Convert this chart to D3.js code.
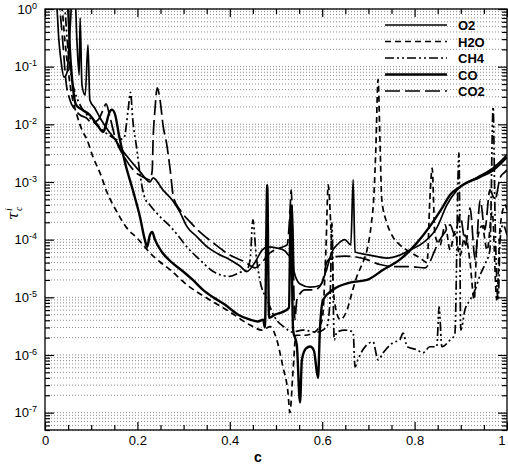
<!DOCTYPE html>
<html>
<head>
<meta charset="utf-8">
<script src="https://cdn.jsdelivr.net/npm/d3@7"></script>
<style>
  body { margin: 0; background: #fff; }
  svg { display: block; font-family: "Liberation Sans", Arial, sans-serif; }
</style>
</head>
<body>
<div id="chart"></div>
<script>
(function () {

  // [c, tau]
  const o2 = [[0.022,1.7],[0.026,1.0],[0.030,0.29],[0.035,0.12],[0.041,0.066],[0.048,0.081],[0.052,0.24],[0.056,0.78],[0.058,1.7],[0.065,1.7],[0.069,0.29],[0.074,0.072],[0.076,0.70],[0.080,0.048],[0.087,0.032],[0.093,0.24],[0.097,0.0265],[0.108,0.019],[0.119,0.013],[0.136,0.0080],[0.152,0.0054],[0.162,0.0041],[0.184,0.0024],[0.206,0.0015],[0.227,0.0010],[0.234,0.00118],[0.255,0.00073],[0.277,0.00047],[0.292,0.00030],[0.307,0.00017],[0.329,0.000112],[0.351,7.5e-5],[0.374,5.7e-5],[0.400,4.5e-5],[0.422,3.5e-5],[0.437,2.8e-5],[0.455,4.1e-5],[0.470,6.6e-5],[0.483,7.5e-5],[0.500,7.2e-5],[0.519,6.4e-5],[0.530,5.2e-5],[0.535,4.0e-4],[0.539,2.8e-5],[0.552,1.7e-5],[0.574,1.5e-5],[0.595,1.6e-5],[0.608,2.8e-5],[0.621,6.1e-5],[0.634,8.4e-5],[0.649,1.0e-4],[0.662,8.1e-5],[0.667,1.1e-3],[0.671,6.1e-5],[0.703,5.4e-5],[0.740,4.8e-5],[0.768,5.4e-5],[0.790,6.6e-5],[0.818,8.8e-5],[0.848,1.6e-4],[0.870,4.0e-4],[0.892,7.3e-4],[0.935,1.2e-3],[0.970,1.75e-3],[1.0,2.95e-3]]

  const h2o = [[0.032,1.7],[0.037,1.0],[0.043,0.29],[0.050,0.088],[0.058,0.032],[0.069,0.0145],[0.080,0.0080],[0.091,0.0054],[0.104,0.0027],[0.119,0.00144],[0.134,6.7e-4],[0.156,3.0e-4],[0.177,1.6e-4],[0.199,1.07e-4],[0.216,7.5e-5],[0.227,5.9e-5],[0.249,4.1e-5],[0.271,3.0e-5],[0.307,1.65e-5],[0.357,9.0e-6],[0.400,5.6e-6],[0.444,3.3e-6],[0.470,2.7e-6],[0.487,3.1e-6],[0.502,1.8e-6],[0.515,6.2e-7],[0.526,2.2e-7],[0.530,1.0e-7],[0.537,5.5e-7],[0.543,2.2e-6],[0.563,2.2e-6],[0.584,2.5e-6],[0.600,4.1e-6],[0.608,6.6e-5],[0.613,8.9e-4],[0.619,1.5e-4],[0.626,9.0e-6],[0.639,4.1e-6],[0.654,6.1e-6],[0.665,1.25e-5],[0.675,2.3e-5],[0.686,3.7e-5],[0.697,6.6e-5],[0.706,1.8e-4],[0.712,6.0e-4],[0.716,3.6e-3],[0.721,0.06],[0.725,5.4e-3],[0.729,4.9e-4],[0.740,1.95e-4],[0.753,1.12e-4],[0.768,8.1e-5],[0.790,6.1e-5],[0.812,4.8e-5],[0.827,4.0e-5],[0.833,4.9e-4],[0.838,1.75e-3],[0.844,1.21e-4],[0.855,8.1e-5],[0.866,1.8e-4],[0.877,6.6e-5],[0.887,1.36e-4],[0.898,5.2e-5],[0.909,1.2e-4],[0.920,4.1e-5],[0.929,9.0e-6],[0.935,9.1e-5],[0.946,1.73e-4],[0.957,6.6e-5],[0.968,3.0e-4],[0.978,9.0e-6],[0.985,1.6e-4],[0.996,4.0e-4],[1.0,3.3e-4]]

  const ch4 = [[0.039,1.7],[0.043,1.0],[0.048,0.29],[0.052,0.131],[0.058,0.059],[0.067,0.032],[0.080,0.019],[0.097,0.013],[0.119,0.0087],[0.141,0.0063],[0.158,0.0054],[0.171,0.0058],[0.180,0.018],[0.185,0.036],[0.190,0.012],[0.199,3.6e-3],[0.206,1.3e-3],[0.216,5.3e-4],[0.227,4.0e-4],[0.249,2.5e-4],[0.271,1.7e-4],[0.292,1.07e-4],[0.307,7.5e-5],[0.335,4.5e-5],[0.364,2.8e-5],[0.400,2.3e-5],[0.422,2.7e-5],[0.437,3.0e-5],[0.444,4.5e-5],[0.450,2.2e-4],[0.457,5.4e-5],[0.465,2.0e-5],[0.481,9.0e-6],[0.498,4.4e-6],[0.519,3.0e-6],[0.535,2.5e-6],[0.558,2.7e-6],[0.589,2.5e-6],[0.610,3.1e-6],[0.617,9.0e-6],[0.621,1.95e-4],[0.626,1.83e-6],[0.632,2.5e-6],[0.649,2.7e-6],[0.667,2.5e-6],[0.671,6.2e-7],[0.677,8.2e-7],[0.688,1.23e-6],[0.710,1.69e-6],[0.721,8.2e-7],[0.732,1.09e-6],[0.753,1.63e-6],[0.768,1.83e-6],[0.775,2.4e-6],[0.784,1.39e-6],[0.805,1.23e-6],[0.818,1.09e-6],[0.833,1.39e-6],[0.848,1.39e-6],[0.853,6.8e-6],[0.859,1.39e-6],[0.877,1.83e-6],[0.887,2.24e-6],[0.896,3.2e-3],[0.900,2.7e-6],[0.909,6.1e-6],[0.920,9.0e-6],[0.931,1.35e-5],[0.942,2.45e-5],[0.952,3.7e-5],[0.963,6.6e-5],[0.970,0.020],[0.974,2.7e-4],[0.981,9.0e-6],[0.985,1.0e-4],[0.991,1.8e-4],[1.0,1.2e-4]]

  const co = [[0.045,1.7],[0.050,1.0],[0.054,0.195],[0.061,0.040],[0.067,0.022],[0.080,0.018],[0.097,0.0145],[0.113,0.0098],[0.126,0.0074],[0.132,0.0098],[0.139,0.0158],[0.145,0.018],[0.152,0.0145],[0.160,0.0066],[0.173,0.0022],[0.190,7.3e-4],[0.206,2.4e-4],[0.216,1.0e-4],[0.221,7.5e-5],[0.227,1.2e-4],[0.232,1.36e-4],[0.238,1.0e-4],[0.253,6.1e-5],[0.275,4.0e-5],[0.299,2.8e-5],[0.320,2.0e-5],[0.342,1.35e-5],[0.364,1.0e-5],[0.390,7.4e-6],[0.418,5.0e-6],[0.444,4.1e-6],[0.461,3.8e-6],[0.472,4.1e-6],[0.476,3.0e-6],[0.481,8.9e-4],[0.485,4.4e-6],[0.498,5.0e-6],[0.515,5.6e-6],[0.528,6.6e-6],[0.532,4.0e-4],[0.537,2.7e-6],[0.545,1.5e-6],[0.552,1.5e-7],[0.556,8.2e-7],[0.565,1.3e-6],[0.574,1.4e-6],[0.582,1.2e-6],[0.591,4.0e-7],[0.595,2.7e-6],[0.602,9.1e-6],[0.623,1.35e-5],[0.660,1.8e-5],[0.697,2.0e-5],[0.732,3.0e-5],[0.768,4.5e-5],[0.805,8.8e-5],[0.833,1.7e-4],[0.861,3.7e-4],[0.877,6.0e-4],[0.898,8.2e-4],[0.942,1.23e-3],[0.970,1.6e-3],[1.0,2.7e-3]]

  const co2 = [[0.028,1.7],[0.032,1.0],[0.039,0.24],[0.045,0.059],[0.054,0.0265],[0.065,0.018],[0.076,0.0145],[0.089,0.013],[0.102,0.0106],[0.115,0.0119],[0.126,0.018],[0.132,0.0226],[0.141,0.013],[0.152,5.8e-3],[0.173,2.6e-3],[0.195,1.5e-3],[0.216,1.18e-3],[0.227,1.09e-3],[0.232,1.56e-3],[0.234,5.4e-3],[0.238,0.0178],[0.243,0.043],[0.249,0.0265],[0.256,9.0e-3],[0.263,4.75e-3],[0.271,1.62e-3],[0.278,5.5e-4],[0.292,3.3e-4],[0.314,2.03e-4],[0.335,1.36e-4],[0.364,8.8e-5],[0.400,5.4e-5],[0.433,4.1e-5],[0.455,3.25e-5],[0.470,4.1e-5],[0.487,5.9e-5],[0.509,7.2e-5],[0.524,8.1e-5],[0.530,2.7e-4],[0.533,7.3e-4],[0.537,4.5e-5],[0.541,4.1e-6],[0.545,9.0e-6],[0.563,1.35e-5],[0.584,1.35e-5],[0.600,1.8e-5],[0.610,4.1e-5],[0.623,5.0e-5],[0.649,5.2e-5],[0.673,5.0e-5],[0.697,4.5e-5],[0.725,3.7e-5],[0.758,3.4e-5],[0.790,3.4e-5],[0.823,3.25e-5],[0.833,4.1e-5],[0.844,6.6e-5],[0.855,1.0e-4],[0.866,1.36e-4],[0.877,1.8e-4],[0.887,1.2e-4],[0.898,2.7e-4],[0.911,8.1e-5],[0.920,3.56e-4],[0.931,4.5e-5],[0.942,4.9e-4],[0.952,1.48e-4],[0.963,7.3e-4],[0.974,4.9e-4],[0.985,1.18e-3],[0.996,1.5e-3],[1.0,1.62e-3]]

  const names = ['O2', 'H2O', 'CH4', 'CO', 'CO2']
  const xMajor = [0, 0.2, 0.4, 0.6, 0.8, 1]
  const xMinor = [0.05, 0.1, 0.15, 0.25, 0.3, 0.35, 0.45, 0.5, 0.55, 0.65, 0.7, 0.75, 0.85, 0.9, 0.95]
  const yDecades = [1, 1e-1, 1e-2, 1e-3, 1e-4, 1e-5, 1e-6, 1e-7]

  // line styles, same order as names
  const series = [
    { name: names[0], data: o2, dash: null, w: 1.7 },
    { name: names[1], data: h2o, dash: '6,4', w: 1.7 },
    { name: names[2], data: ch4, dash: '9,3,2,3,2,3', w: 1.7 },
    { name: names[3], data: co, dash: null, w: 2.4 },
    { name: names[4], data: co2, dash: '15,5', w: 1.7 }
  ]

  const margin = { top: 9, right: 1, bottom: 38, left: 45 }
  const width = 508 - margin.left - margin.right
  const height = 468 - margin.top - margin.bottom

  const root = d3.select('#chart').append('svg')
    .attr('width', 508)
    .attr('height', 468)

  const svg = root.append('g')
    .attr('transform', 'translate(' + margin.left + ',' + margin.top + ')')

  const x = d3.scaleLinear().domain([0, 1]).range([0, width])
  const y = d3.scaleLog().domain([5e-8, 1]).range([height, 0])

  const allTicks = y.ticks()
  const isDecade = d => Math.abs(Math.log10(d) - Math.round(Math.log10(d))) < 1e-9
  const yMinor = allTicks.filter(d => !isDecade(d))

  // dotted horizontal grid on every log tick
  svg.append('g')
    .selectAll('line')
    .data(allTicks)
    .join('line')
    .attr('x1', 0)
    .attr('x2', width)
    .attr('y1', d => y(d))
    .attr('y2', d => y(d))
    .attr('stroke', '#8c8c8c')
    .attr('stroke-width', 1)
    .attr('stroke-dasharray', '1,2')

  svg.append('clipPath').attr('id', 'plot-clip')
    .append('rect').attr('width', width).attr('height', height)

  const line = d3.line()
    .x(d => x(d[0]))
    .y(d => y(d[1]))
    .curve(d3.curveMonotoneX)

  svg.append('g')
    .attr('clip-path', 'url(#plot-clip)')
    .selectAll('path')
    .data(series)
    .join('path')
    .attr('d', d => line(d.data))
    .attr('fill', 'none')
    .attr('stroke', '#000')
    .attr('stroke-width', d => d.w)
    .attr('stroke-dasharray', d => d.dash)
    .attr('stroke-linejoin', 'round')

  // ticks, all pointing inward
  function tickGroup (axis, transform) {
    const g = svg.append('g').attr('transform', transform || null).call(axis)
    g.select('.domain').remove()
    g.selectAll('line').attr('stroke', '#000').attr('stroke-width', 1.2)
    return g
  }

  tickGroup(d3.axisLeft(y).tickValues(yMinor).tickSize(-5).tickFormat(''))
  tickGroup(d3.axisRight(y).tickValues(yMinor).tickSize(-5).tickFormat(''), 'translate(' + width + ',0)')
  tickGroup(d3.axisRight(y).tickValues(yDecades).tickSize(-9).tickFormat(''), 'translate(' + width + ',0)')
  tickGroup(d3.axisTop(x).tickValues(xMinor).tickSize(-5).tickFormat(''))
  tickGroup(d3.axisTop(x).tickValues(xMajor).tickSize(-8).tickFormat(''))
  tickGroup(d3.axisBottom(x).tickValues(xMinor).tickSize(-5).tickFormat(''), 'translate(0,' + height + ')')

  const xAxis = tickGroup(d3.axisBottom(x).tickValues(xMajor).tickSize(-8).tickPadding(6).tickFormat(d3.format('~g')),
    'translate(0,' + height + ')')
  // keep the last label inside the window
  xAxis.selectAll('text')
    .attr('font-family', '"Liberation Sans", Arial, sans-serif')
    .attr('font-size', 13)
    .attr('fill', '#000')
    .attr('text-anchor', d => d === 1 ? 'end' : 'middle')
    .attr('dx', d => d === 1 ? -2 : 0)

  const yAxis = tickGroup(d3.axisLeft(y).tickValues(yDecades).tickSize(-9).tickPadding(8).tickFormat(''))
  yAxis.selectAll('.tick text')
    .attr('font-family', '"Liberation Sans", Arial, sans-serif')
    .attr('font-size', 13)
    .attr('fill', '#000')
    .each(function (d) {
      const t = d3.select(this)
      t.text('10')
      t.append('tspan')
        .attr('dy', '-0.55em')
        .attr('font-size', 9)
        .text(Math.round(Math.log10(d)))
    })

  // frame
  svg.append('rect')
    .attr('width', width)
    .attr('height', height)
    .attr('fill', 'none')
    .attr('stroke', '#000')
    .attr('stroke-width', 1.3)

  // axis titles
  svg.append('text')
    .attr('x', 213)
    .attr('y', 453)
    .attr('text-anchor', 'middle')
    .attr('font-size', 14)
    .attr('font-weight', 'bold')
    .text('c')

  const yTitle = root.append('g').attr('transform', 'translate(18,220) rotate(-90)')
  yTitle.append('text')
    .attr('font-family', '"DejaVu Serif", "Liberation Serif", serif')
    .attr('font-style', 'italic')
    .attr('font-size', 15)
    .text('τ')
  yTitle.append('text')
    .attr('x', 9).attr('y', -6)
    .attr('font-family', '"Liberation Serif", serif')
    .attr('font-style', 'italic')
    .attr('font-size', 10)
    .text('i')
  yTitle.append('text')
    .attr('x', 9).attr('y', 4)
    .attr('font-family', '"Liberation Serif", serif')
    .attr('font-style', 'italic')
    .attr('font-size', 10)
    .text('c')

  // legend
  const legend = svg.append('g')
    .selectAll('g')
    .data(series)
    .join('g')
    .attr('transform', (d, i) => 'translate(340,' + (16 + i * 16.5) + ')')

  legend.append('line')
    .attr('x1', 0)
    .attr('x2', 62)
    .attr('stroke', '#000')
    .attr('stroke-width', d => d.w)
    .attr('stroke-dasharray', d => d.dash)

  legend.append('text')
    .attr('x', 73)
    .attr('y', 5)
    .attr('font-size', 13)
    .attr('font-weight', 'bold')
    .text(d => d.name)

})();
</script>
</body>
</html>
